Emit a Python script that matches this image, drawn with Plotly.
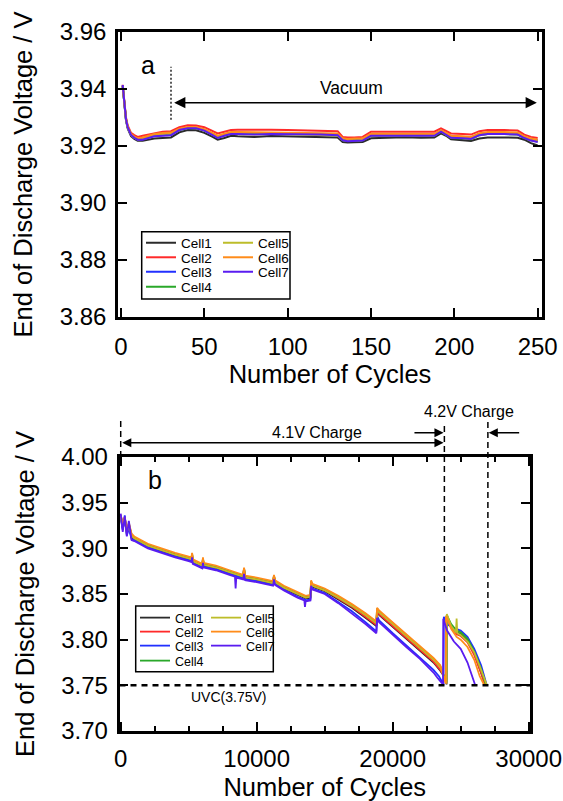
import plotly.graph_objects as go

W, H = 563, 801
FONT = "Liberation Sans, Arial, sans-serif"

CELLS = ["Cell1", "Cell2", "Cell3", "Cell4", "Cell5", "Cell6", "Cell7"]
COLORS = ["#2b2b2b", "#ff2a2a", "#2230ff", "#2aa82a", "#bdbd2a", "#ff8c1a", "#5a1cf0"]

# ---------------- panel a : vacuum, 0-250 cycles ----------------
TOP_X = [1, 2, 3, 4, 5, 6, 8, 10, 13, 16,
         20, 25, 30, 35, 40, 45, 50, 55, 58, 62,
         66, 70, 80, 90, 100, 110, 120, 130, 133, 136,
         140, 145, 150, 160, 170, 180, 188, 192, 195, 198,
         205, 210, 215, 220, 230, 238, 242, 246, 250]

TOP_CELL1 = [3.9410, 3.9340, 3.9290, 3.9262, 3.9245, 3.9235, 3.9225, 3.9218, 3.9218, 3.9222,
             3.9226, 3.9228, 3.9230, 3.9248, 3.9256, 3.9255, 3.9246, 3.9232, 3.9222, 3.9228,
             3.9236, 3.9234, 3.9232, 3.9235, 3.9234, 3.9232, 3.9231, 3.9230, 3.9214, 3.9212,
             3.9213, 3.9214, 3.9227, 3.9230, 3.9231, 3.9229, 3.9230, 3.9244, 3.9236, 3.9224,
             3.9222, 3.9218, 3.9226, 3.9230, 3.9230, 3.9229, 3.9222, 3.9210, 3.9202]
TOP_CELL2 = [3.9415, 3.9350, 3.9300, 3.9272, 3.9256, 3.9246, 3.9238, 3.9232, 3.9236, 3.9240,
             3.9246, 3.9250, 3.9252, 3.9266, 3.9273, 3.9272, 3.9266, 3.9252, 3.9244, 3.9250,
             3.9256, 3.9257, 3.9258, 3.9257, 3.9256, 3.9255, 3.9254, 3.9252, 3.9232, 3.9230,
             3.9230, 3.9232, 3.9250, 3.9250, 3.9251, 3.9249, 3.9250, 3.9262, 3.9254, 3.9244,
             3.9242, 3.9240, 3.9252, 3.9256, 3.9256, 3.9254, 3.9240, 3.9232, 3.9228]
TOP_CELL3 = [3.9412, 3.9342, 3.9292, 3.9265, 3.9248, 3.9238, 3.9228, 3.9222, 3.9224, 3.9230,
             3.9236, 3.9238, 3.9240, 3.9258, 3.9264, 3.9264, 3.9256, 3.9242, 3.9232, 3.9240,
             3.9246, 3.9246, 3.9245, 3.9246, 3.9245, 3.9244, 3.9243, 3.9242, 3.9222, 3.9220,
             3.9221, 3.9222, 3.9240, 3.9240, 3.9241, 3.9240, 3.9240, 3.9254, 3.9244, 3.9234,
             3.9232, 3.9230, 3.9242, 3.9246, 3.9246, 3.9244, 3.9232, 3.9224, 3.9220]
TOP_CELL4 = [3.9411, 3.9344, 3.9294, 3.9266, 3.9250, 3.9240, 3.9230, 3.9224, 3.9226, 3.9232,
             3.9240, 3.9244, 3.9242, 3.9256, 3.9262, 3.9262, 3.9254, 3.9240, 3.9230, 3.9238,
             3.9244, 3.9244, 3.9242, 3.9244, 3.9243, 3.9241, 3.9240, 3.9238, 3.9220, 3.9218,
             3.9219, 3.9220, 3.9236, 3.9238, 3.9238, 3.9236, 3.9236, 3.9250, 3.9240, 3.9228,
             3.9226, 3.9224, 3.9238, 3.9242, 3.9242, 3.9240, 3.9228, 3.9220, 3.9216]
TOP_CELL5 = [3.9410, 3.9342, 3.9293, 3.9265, 3.9249, 3.9239, 3.9229, 3.9223, 3.9225, 3.9231,
             3.9238, 3.9242, 3.9244, 3.9258, 3.9263, 3.9263, 3.9255, 3.9240, 3.9231, 3.9238,
             3.9243, 3.9242, 3.9240, 3.9243, 3.9241, 3.9240, 3.9239, 3.9237, 3.9221, 3.9219,
             3.9220, 3.9221, 3.9237, 3.9238, 3.9239, 3.9237, 3.9237, 3.9251, 3.9241, 3.9230,
             3.9228, 3.9225, 3.9238, 3.9243, 3.9243, 3.9241, 3.9230, 3.9221, 3.9217]
TOP_CELL6 = [3.9412, 3.9346, 3.9296, 3.9268, 3.9252, 3.9242, 3.9233, 3.9227, 3.9230, 3.9235,
             3.9242, 3.9246, 3.9247, 3.9261, 3.9267, 3.9267, 3.9259, 3.9245, 3.9236, 3.9243,
             3.9249, 3.9249, 3.9248, 3.9249, 3.9248, 3.9247, 3.9246, 3.9244, 3.9227, 3.9225,
             3.9226, 3.9227, 3.9243, 3.9243, 3.9244, 3.9242, 3.9242, 3.9256, 3.9246, 3.9236,
             3.9234, 3.9232, 3.9245, 3.9249, 3.9249, 3.9247, 3.9234, 3.9226, 3.9222]
TOP_CELL7 = [3.9414, 3.9345, 3.9294, 3.9266, 3.9249, 3.9239, 3.9229, 3.9222, 3.9222, 3.9228,
             3.9234, 3.9236, 3.9238, 3.9256, 3.9262, 3.9262, 3.9254, 3.9238, 3.9228, 3.9236,
             3.9242, 3.9242, 3.9240, 3.9242, 3.9242, 3.9240, 3.9240, 3.9238, 3.9220, 3.9217,
             3.9218, 3.9219, 3.9236, 3.9236, 3.9237, 3.9238, 3.9236, 3.9250, 3.9240, 3.9229,
             3.9227, 3.9225, 3.9238, 3.9242, 3.9242, 3.9240, 3.9228, 3.9219, 3.9214]
TOP_Y = [TOP_CELL1, TOP_CELL2, TOP_CELL3, TOP_CELL4, TOP_CELL5, TOP_CELL6, TOP_CELL7]

# ---------------- panel b : 4.1V / 4.2V charge, 0-30000 cycles ----------------
BOT_X = [0, 150, 300, 450, 600, 800, 1000, 1500, 2000, 3000,
         4000, 5000, 5200, 5250, 5300, 6000, 6050, 6100, 7000, 8000,
         8400, 8450, 8500, 9000, 9070, 9150, 10000, 11200, 11270, 11350,
         12000, 13000, 13500, 13550, 13600, 13950, 14000, 14100, 15000, 16000,
         17000, 18000, 18800, 18850, 19000, 20000, 21000, 22000, 23000]

BOT_CELL1 = [3.935, 3.922, 3.932, 3.916, 3.924, 3.912, 3.910, 3.906, 3.902, 3.897,
             3.892, 3.888, 3.887, 3.893, 3.885, 3.880, 3.888, 3.881, 3.878, 3.873,
             3.871, 3.871, 3.870, 3.868, 3.877, 3.867, 3.865, 3.861, 3.869, 3.862,
             3.856, 3.849, 3.846, 3.846, 3.845, 3.846, 3.862, 3.858, 3.853, 3.844,
             3.835, 3.824, 3.815, 3.831, 3.827, 3.814, 3.801, 3.789, 3.775]
BOT_CELL2 = [3.937, 3.925, 3.934, 3.918, 3.926, 3.913, 3.911, 3.907, 3.903, 3.898,
             3.893, 3.889, 3.888, 3.894, 3.886, 3.881, 3.889, 3.882, 3.879, 3.874,
             3.872, 3.872, 3.871, 3.869, 3.878, 3.868, 3.866, 3.862, 3.870, 3.863,
             3.857, 3.850, 3.847, 3.847, 3.846, 3.847, 3.863, 3.859, 3.854, 3.845,
             3.836, 3.825, 3.816, 3.832, 3.828, 3.815, 3.802, 3.790, 3.776]
BOT_CELL3 = [3.933, 3.920, 3.936, 3.914, 3.922, 3.910, 3.909, 3.905, 3.901, 3.896,
             3.891, 3.887, 3.886, 3.891, 3.884, 3.879, 3.886, 3.880, 3.877, 3.872,
             3.870, 3.870, 3.869, 3.867, 3.874, 3.866, 3.864, 3.860, 3.867, 3.861,
             3.855, 3.847, 3.844, 3.844, 3.843, 3.844, 3.860, 3.856, 3.851, 3.841,
             3.831, 3.819, 3.809, 3.826, 3.821, 3.807, 3.794, 3.781, 3.767]
BOT_CELL4 = [3.936, 3.926, 3.933, 3.919, 3.927, 3.915, 3.912, 3.908, 3.904, 3.899,
             3.894, 3.890, 3.889, 3.894, 3.887, 3.882, 3.889, 3.883, 3.880, 3.875,
             3.873, 3.873, 3.872, 3.870, 3.878, 3.869, 3.867, 3.863, 3.870, 3.864,
             3.858, 3.851, 3.848, 3.848, 3.847, 3.848, 3.864, 3.860, 3.855, 3.847,
             3.838, 3.828, 3.819, 3.834, 3.831, 3.818, 3.805, 3.793, 3.779]
BOT_CELL5 = [3.934, 3.924, 3.931, 3.917, 3.925, 3.914, 3.911, 3.907, 3.903, 3.898,
             3.893, 3.889, 3.888, 3.893, 3.886, 3.881, 3.888, 3.882, 3.879, 3.874,
             3.872, 3.872, 3.871, 3.869, 3.876, 3.868, 3.866, 3.862, 3.869, 3.863,
             3.857, 3.850, 3.847, 3.847, 3.846, 3.847, 3.863, 3.859, 3.854, 3.846,
             3.837, 3.827, 3.818, 3.833, 3.830, 3.817, 3.804, 3.792, 3.778]
BOT_CELL6 = [3.936, 3.927, 3.934, 3.920, 3.928, 3.916, 3.913, 3.909, 3.905, 3.900,
             3.895, 3.891, 3.890, 3.895, 3.888, 3.883, 3.890, 3.884, 3.881, 3.876,
             3.874, 3.874, 3.873, 3.871, 3.879, 3.870, 3.868, 3.864, 3.871, 3.865,
             3.859, 3.852, 3.849, 3.849, 3.848, 3.849, 3.865, 3.861, 3.856, 3.848,
             3.839, 3.829, 3.820, 3.835, 3.832, 3.819, 3.806, 3.794, 3.780]
BOT_CELL7 = [3.938, 3.918, 3.935, 3.913, 3.930, 3.909, 3.908, 3.904, 3.900, 3.895,
             3.890, 3.886, 3.885, 3.890, 3.883, 3.878, 3.884, 3.879, 3.876, 3.871,
             3.869, 3.856, 3.868, 3.866, 3.872, 3.865, 3.863, 3.859, 3.866, 3.860,
             3.854, 3.846, 3.843, 3.836, 3.842, 3.843, 3.859, 3.855, 3.850, 3.840,
             3.829, 3.817, 3.807, 3.824, 3.819, 3.805, 3.792, 3.779, 3.764]
BOT_Y = [BOT_CELL1, BOT_CELL2, BOT_CELL3, BOT_CELL4, BOT_CELL5, BOT_CELL6, BOT_CELL7]

# end of life segments (4.1V -> 3.75V, switch to 4.2V charge -> 3.75V)
TAIL_X = [
    [23500, 23900, 23960, 23980, 24300, 24700, 25000, 25500, 26000, 26500, 26800],
    [23500, 23930, 23950, 23970, 24300, 24700, 25000, 25500, 26000, 26500, 26780],
    [23400, 23740, 23760, 24100, 24600, 25000, 25500, 26000, 26500, 26900],
    [23500, 23950, 23970, 24300, 24700, 25000, 25500, 26000, 26500, 26850],
    [23500, 23960, 23980, 24300, 24650, 24700, 24750, 25000, 25500, 26000, 26500, 26900],
    [23500, 23900, 23920, 24300, 24700, 25000, 25500, 26000, 26400, 26700],
    [23300, 23700, 23720, 24000, 24500, 25000, 25500, 25800, 26050],
]
TAIL_Y = [
    [3.766, 3.757, 3.751, 3.826, 3.815, 3.808, 3.806, 3.799, 3.785, 3.765, 3.751],
    [3.767, 3.756, 3.752, 3.825, 3.814, 3.806, 3.804, 3.797, 3.783, 3.764, 3.751],
    [3.760, 3.751, 3.825, 3.816, 3.812, 3.810, 3.803, 3.790, 3.772, 3.751],
    [3.771, 3.753, 3.827, 3.817, 3.810, 3.808, 3.801, 3.787, 3.768, 3.751],
    [3.770, 3.752, 3.828, 3.815, 3.808, 3.823, 3.807, 3.805, 3.798, 3.786, 3.767, 3.751],
    [3.772, 3.752, 3.826, 3.812, 3.803, 3.800, 3.792, 3.778, 3.760, 3.751],
    [3.758, 3.751, 3.823, 3.810, 3.798, 3.790, 3.775, 3.762, 3.751],
]

UVC = 3.75
SWITCH_42V = 23800
END_42V = 27000

# ---------------- layout helpers (pixel -> paper) ----------------
def px(x):
    return x / W

def py(y):
    return 1 - y / H

fig = go.Figure()

# legend item pixel positions (line start x, row centre y)
TOP_LEG = [(146, 243), (146, 257.5), (146, 272), (146, 287),
           (223, 243), (223, 257.5), (223, 272)]
BOT_LEG = [(140, 618), (140, 632), (140, 646), (140, 661),
           (211, 618), (211, 632), (211, 646)]
LEG_DX = 5

legends = {}
for i, name in enumerate(CELLS):
    lid = "legend" if i == 0 else f"legend{i + 1}"
    fig.add_trace(go.Scatter(x=TOP_X, y=TOP_Y[i], mode="lines", name=name,
                             line=dict(color=COLORS[i], width=2),
                             xaxis="x", yaxis="y", legend=lid))
    lx, ly = TOP_LEG[i]
    legends[lid] = dict(x=px(lx - LEG_DX), y=py(ly), xanchor="left", yanchor="middle",
                        bgcolor="rgba(0,0,0,0)", borderwidth=0,
                        font=dict(family=FONT, size=13.5, color="black"))

for i, name in enumerate(CELLS):
    lid = f"legend{i + 8}"
    fig.add_trace(go.Scatter(x=BOT_X + TAIL_X[i], y=BOT_Y[i] + TAIL_Y[i], mode="lines",
                             name=name, line=dict(color=COLORS[i], width=1.8),
                             xaxis="x2", yaxis="y2", legend=lid))
    lx, ly = BOT_LEG[i]
    legends[lid] = dict(x=px(lx - LEG_DX), y=py(ly), xanchor="left", yanchor="middle",
                        bgcolor="rgba(0,0,0,0)", borderwidth=0,
                        font=dict(family=FONT, size=12.5, color="black"))

axis_common = dict(showline=True, linecolor="black", linewidth=2.5, mirror="ticks",
                   ticks="inside", tickcolor="black", tickwidth=2, ticklen=9,
                   showgrid=False, zeroline=False, automargin=False,
                   tickfont=dict(family=FONT, size=24, color="black"))
TITLE_FONT = dict(family=FONT, size=25.5, color="black")

fig.update_layout(
    template="none",
    width=W, height=H, autosize=False,
    margin=dict(l=0, r=0, t=0, b=0, pad=0),
    paper_bgcolor="white", plot_bgcolor="white",
    font=dict(family=FONT, color="black"),
    xaxis=dict(domain=[px(118), px(542)], range=[-1.8, 252.6], tickmode="array",
               tickvals=[0, 50, 100, 150, 200, 250], anchor="y",
               title=dict(text="Number of Cycles", font=TITLE_FONT, standoff=7),
               ticklabelstandoff=6, **axis_common),
    yaxis=dict(domain=[py(317), py(32)], range=[3.86, 3.96], tickmode="array",
               tickvals=[3.86, 3.88, 3.90, 3.92, 3.94, 3.96], tickformat=".2f", anchor="x",
               title=dict(text="End of Discharge Voltage / V", font=TITLE_FONT, standoff=20),
               ticklabelstandoff=4, **axis_common),
    xaxis2=dict(domain=[px(119.5), px(530)], range=[-88, 30096], tickmode="array",
                tickvals=[0, 10000, 20000, 30000], tickformat="d", anchor="y2",
                minor=dict(dtick=2500, tick0=0, ticks="inside", ticklen=5, tickwidth=1.5,
                           tickcolor="black"),
                title=dict(text="Number of Cycles", font=TITLE_FONT, standoff=11),
                ticklabelstandoff=4, **axis_common),
    yaxis2=dict(domain=[py(731), py(457)], range=[3.70, 4.00], tickmode="array",
                tickvals=[3.70, 3.75, 3.80, 3.85, 3.90, 3.95, 4.00], tickformat=".2f",
                anchor="x2",
                title=dict(text="End of Discharge Voltage / V", font=TITLE_FONT, standoff=20),
                ticklabelstandoff=4, **axis_common),
    showlegend=True,
    **legends,
)

ann_font = dict(family=FONT, color="black")
shapes = []
annotations = []

# ---- panel a decorations ----
annotations.append(dict(text="a", x=px(139), y=py(49), xref="paper", yref="paper",
                        showarrow=False, font=dict(ann_font, size=25)))
shapes.append(dict(type="line", xref="x", yref="y", x0=30, x1=30, y0=3.9292, y1=3.9478,
                   line=dict(color="black", width=1.3, dash="2px,2px")))
annotations.append(dict(text="", x=249.5, y=3.9352, ax=31, ay=3.9352, xref="x", yref="y",
                        axref="x", ayref="y", showarrow=True, arrowside="end+start",
                        arrowhead=2, arrowsize=1.6, arrowwidth=1.4, arrowcolor="black",
                        standoff=0, startstandoff=0))
annotations.append(dict(text="Vacuum", x=138.5, y=3.9402, xref="x", yref="y",
                        showarrow=False, font=dict(ann_font, size=17.5)))
# legend frame
shapes.append(dict(type="rect", xref="paper", yref="paper", x0=px(141.7), x1=px(290),
                   y0=py(299), y1=py(231.7), line=dict(color="black", width=1.5)))

# ---- panel b decorations ----
annotations.append(dict(text="b", x=px(146), y=py(480), xref="paper", yref="paper",
                        showarrow=False, font=dict(ann_font, size=25)))
shapes.append(dict(type="line", xref="x2", yref="paper", x0=0, x1=0,
                   y0=py(457), y1=py(420), line=dict(color="black", width=1.5, dash="6px,4px")))
shapes.append(dict(type="line", xref="x2", yref="paper", x0=SWITCH_42V, x1=SWITCH_42V,
                   y0=py(592), y1=py(423), line=dict(color="black", width=1.5, dash="6px,4px")))
shapes.append(dict(type="line", xref="x2", yref="paper", x0=END_42V, x1=END_42V,
                   y0=py(648), y1=py(420), line=dict(color="black", width=1.5, dash="6px,4px")))
shapes.append(dict(type="line", xref="x2 domain", yref="y2", x0=0, x1=1, y0=UVC, y1=UVC,
                   line=dict(color="black", width=2.5, dash="6px,5px")))
annotations.append(dict(text="4.1V Charge", x=14400, y=py(432), xref="x2", yref="paper",
                        showarrow=False, font=dict(ann_font, size=16)))
annotations.append(dict(text="", x=SWITCH_42V - 60, y=py(442.7), ax=0, ay=0,
                        xref="x2", yref="paper", axref="x2", ayref="pixel",
                        showarrow=True, arrowside="end+start", arrowhead=2, arrowsize=1.3,
                        arrowwidth=1.4, arrowcolor="black", standoff=0, startstandoff=0))
annotations.append(dict(text="4.2V Charge", x=25610, y=py(411.7), xref="x2", yref="paper",
                        showarrow=False, font=dict(ann_font, size=16)))
annotations.append(dict(text="", x=SWITCH_42V - 60, y=py(432.7), ax=21490, ay=0,
                        xref="x2", yref="paper", axref="x2", ayref="pixel",
                        showarrow=True, arrowhead=2, arrowsize=1.3, arrowwidth=1.4,
                        arrowcolor="black", standoff=0))
annotations.append(dict(text="", x=END_42V + 60, y=py(432.7), ax=29410, ay=0,
                        xref="x2", yref="paper", axref="x2", ayref="pixel",
                        showarrow=True, arrowhead=2, arrowsize=1.3, arrowwidth=1.4,
                        arrowcolor="black", standoff=0))
annotations.append(dict(text="UVC(3.75V)", x=7940, y=3.7376, xref="x2", yref="y2",
                        showarrow=False, font=dict(ann_font, size=14)))
shapes.append(dict(type="rect", xref="paper", yref="paper", x0=px(135.7), x1=px(273.3),
                   y0=py(671.7), y1=py(606), line=dict(color="black", width=1.5)))

fig.update_layout(shapes=shapes, annotations=annotations)
fig.write_html("out.html")
